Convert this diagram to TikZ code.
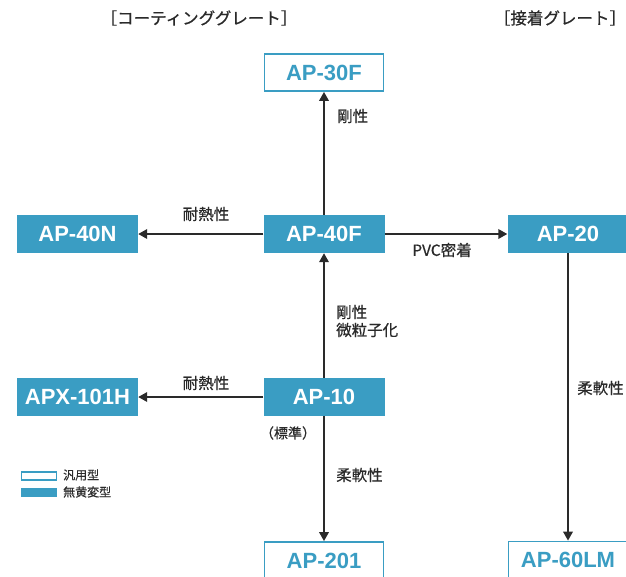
\documentclass[tikz,border=0pt]{standalone}
\usepackage{fontspec}
\setmainfont{Liberation Sans}
\newfontfamily\jp[FakeBold=0.6]{Noto Sans CJK JP}
\usetikzlibrary{arrows.meta}
\definecolor{apblue}{HTML}{3A9DC3}
\definecolor{ink}{HTML}{2A2A2A}
\tikzset{
  filledbox/.style={rectangle, fill=apblue, draw=none, minimum width=121pt, minimum height=38pt, inner sep=0pt,
    text=white, font=\fontsize{22}{22}\selectfont\bfseries},
  openbox/.style={rectangle, fill=white, draw=apblue, line width=1.8pt, minimum width=119pt, minimum height=37pt, inner sep=0pt,
    text=apblue, font=\fontsize{22}{22}\selectfont\bfseries},
  conn/.style={draw=ink, line width=1.9pt, -{Triangle[length=9pt,width=9.5pt]}},
  lbl/.style={text=ink, font=\jp\fontsize{15.5}{18}\selectfont, inner sep=0pt},
  smalllbl/.style={text=ink, font=\jp\fontsize{12}{14}\selectfont, inner sep=0pt},
  hdr/.style={text=ink, font=\jp\fontsize{16.5}{19}\selectfont, inner sep=0pt},
}
\begin{document}
\begin{tikzpicture}[x=1pt,y=-1pt]
\useasboundingbox (0,0) rectangle (626,576);
\clip (0,0) rectangle (626,576);
% headers
\node[hdr] (h1) at (199,18) {［コーティンググレート］};
\node[hdr] (h2) at (560,18) {［接着グレート］};
% boxes
\node[openbox] (ap30f) at (324,72.5) {AP-30F};
\node[filledbox] (ap40f) at (324,234) {AP-40F};
\node[filledbox] (ap40n) at (77.5,234) {AP-40N};
\node[filledbox] (ap20) at (568,234) {AP-20};
\node[filledbox] (apx) at (77.5,397) {APX-101H};
\node[filledbox] (ap10) at (324,397) {AP-10};
\node[openbox] (ap201) at (324,560.5) {AP-201};
\node[openbox] (ap60lm) at (568,560) {AP-60LM};
% connectors
\draw[conn] (ap40f.north) -- (ap30f.south);
\draw[conn] (ap40f.west) -- (ap40n.east);
\draw[conn] (ap40f.east) -- (ap20.west);
\draw[conn] (ap10.north) -- (ap40f.south);
\draw[conn] (ap10.west) -- (apx.east);
\draw[conn] (ap10.south) -- (ap201.north);
\draw[conn] (ap20.south) -- (ap60lm.north);
% labels
\node[lbl, anchor=west] (l1) at (337,116) {剛性};
\node[lbl] (l2) at (206,214) {耐熱性};
\node[lbl] (l3) at (442,250) {PVC密着};
\node[lbl, anchor=west, align=left] (l4) at (336,321) {剛性\\微粒子化};
\node[lbl] (l5) at (206,383) {耐熱性};
\node[smalllbl] (l6) at (288,433) {\fontsize{14}{16}\selectfont（標準）};
\node[lbl, anchor=west] (l7) at (336,475) {柔軟性};
\node[lbl, anchor=west] (l8) at (577,388) {柔軟性};
% legend
\node[rectangle, draw=apblue, line width=1.1pt, fill=white, minimum width=35pt, minimum height=8pt, inner sep=0pt] (lg1) at (39,476) {};
\node[rectangle, fill=apblue, minimum width=36pt, minimum height=9pt, inner sep=0pt] (lg2) at (39,492.5) {};
\node[smalllbl, anchor=west] (lt1) at (63,475) {汎用型};
\node[smalllbl, anchor=west] (lt2) at (63,492) {無黄変型};
\end{tikzpicture}
\end{document}
